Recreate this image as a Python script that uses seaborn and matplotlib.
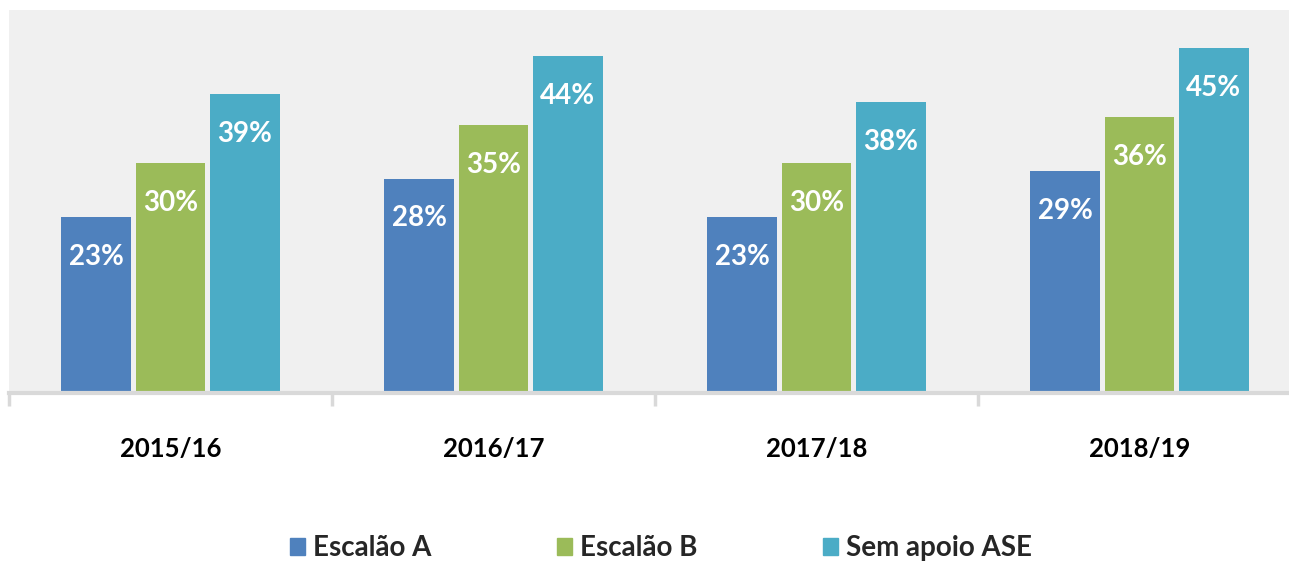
import matplotlib.pyplot as plt
import seaborn as sns
import numpy as np
import pandas as pd
from matplotlib.patches import Patch

sns.set_style('white')
plt.rcParams['font.family'] = ['Lato', 'DejaVu Sans']

## dados
anos = ['2015/16', '2016/17', '2017/18', '2018/19']
escalao_a = [23, 28, 23, 29]
escalao_b = [30, 35, 30, 36]
sem_apoio = [39, 44, 38, 45]
series = ['Escalão A', 'Escalão B', 'Sem apoio ASE']
cores = ['#4f81bd', '#9bbb59', '#4bacc6']

df = pd.DataFrame({
    'ano': anos * 3,
    'grupo': [series[0]] * 4 + [series[1]] * 4 + [series[2]] * 4,
    'valor': escalao_a + escalao_b + sem_apoio,
})

fig = plt.figure(figsize=(12.89, 5.62), dpi=100)
ax = fig.add_axes([9 / 1289, 1 - 393 / 562, 1292 / 1289, 383 / 562])
ax.set_facecolor('#f0f0f0')

sns.barplot(data=df, x='ano', y='valor', hue='grupo', palette=cores,
            width=0.69, gap=0.06, ax=ax, legend=False, saturation=1, linewidth=0)

## rótulos brancos dentro das barras
for c in ax.containers:
    ax.bar_label(c, labels=[f'{v:.0f}%' for v in c.datavalues],
                 padding=-38, color='white', fontsize=20, fontweight='bold')

ax.set_ylim(0, 50)
ax.set_xlim(-0.5, 3.5)
ax.set_xlabel('')
ax.set_ylabel('')
ax.set_yticks([])
for s in ['top', 'left', 'right']:
    ax.spines[s].set_visible(False)
ax.spines['bottom'].set_color('#d9d9d9')
ax.spines['bottom'].set_linewidth(3)

ax.set_xticks(np.arange(-0.5, 4, 1), minor=True)
ax.tick_params(axis='x', which='major', length=0, pad=32, labelsize=18.5, labelcolor='black')
ax.tick_params(axis='x', which='minor', length=9, width=2.5, color='#d9d9d9', bottom=True)
for t in ax.get_xticklabels():
    t.set_fontweight('bold')

handles = [Patch(color=c) for c in cores]
fig.legend(handles, series, loc='center', bbox_to_anchor=(661 / 1289, 1 - 548 / 562), ncol=3,
           frameon=False, prop={'size': 20, 'weight': 'bold'},
           handlelength=0.55, handleheight=0.55, handletextpad=0.3, columnspacing=4.5)

fig.savefig('out.png', dpi=100)
